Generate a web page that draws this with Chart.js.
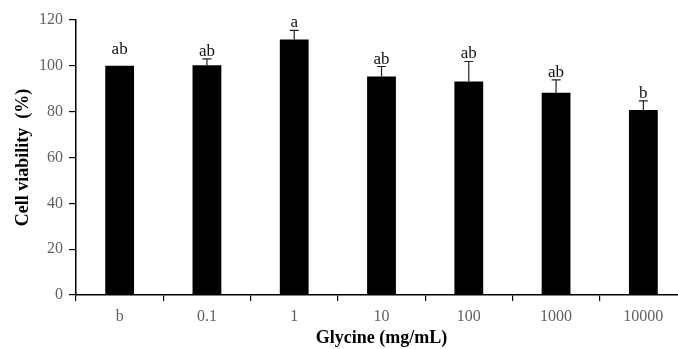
<!DOCTYPE html>
<html>
<head>
<meta charset="utf-8">
<script src="https://cdn.jsdelivr.net/npm/chart.js@4"></script>
<style>
  html, body { margin: 0; padding: 0; background: #fff; overflow: hidden; width: 678px; height: 349px; }
  #chart { display: block; }
</style>
</head>
<body>
<canvas id="chart" width="690" height="349"></canvas>
<script>
// Data
const categories = ['b', '0.1', '1', '10', '100', '1000', '10000'];
const viability = [100, 100.3, 111.5, 95.3, 93.2, 88.3, 80.7];
const errors = [0, 2.7, 4, 4.4, 8.7, 5.6, 4];
const letters = ['ab', 'ab', 'a', 'ab', 'ab', 'ab', 'b'];
const yTicks = [0, 20, 40, 60, 80, 100, 120];

const serif = "'Liberation Serif', 'Times New Roman', serif";

// error bars + significance letters
const errorBarPlugin = {
    id: 'errorBars',
    afterDatasetsDraw(chart) {
        const ctx = chart.ctx;
        const meta = chart.getDatasetMeta(0);
        const y = chart.scales.y;
        ctx.save();
        meta.data.forEach((bar, i) => {
            const top = y.getPixelForValue(viability[i] + errors[i]);
            if (errors[i] > 0) {
                ctx.strokeStyle = '#222';
                ctx.lineWidth = 1.2;
                ctx.beginPath();
                ctx.moveTo(bar.x, bar.y);
                ctx.lineTo(bar.x, top);
                ctx.moveTo(bar.x - 4.5, top);
                ctx.lineTo(bar.x + 4.5, top);
                ctx.stroke();
            }
            ctx.fillStyle = '#111';
            ctx.font = '17px ' + serif;
            ctx.textAlign = 'center';
            ctx.textBaseline = 'alphabetic';
            ctx.fillText(letters[i], bar.x, top - (errors[i] > 0 ? 3 : 12));
        });
        ctx.restore();
    }
};

new Chart(document.getElementById('chart'), {
    type: 'bar',
    data: {
        labels: categories,
        datasets: [{
            data: viability,
            backgroundColor: '#000',
            borderWidth: 0,
            barPercentage: 0.33,
            categoryPercentage: 1
        }]
    },
    options: {
        responsive: false,
        animation: false,
        layout: { padding: { top: 20, right: 3, left: 0, bottom: 0 } },
        plugins: { legend: { display: false }, tooltip: { enabled: false } },
        scales: {
            x: {
                afterFit: s => { s.height = 54; },
                border: { display: true, color: '#000', width: 1.5 },
                grid: { display: true, drawOnChartArea: false, drawTicks: true, tickLength: 6, color: '#000', lineWidth: 1.2, offset: true },
                ticks: { color: '#5f5f5f', font: { family: serif, size: 16 }, padding: 6 },
                title: {
                    display: true,
                    text: 'Glycine (mg/mL)',
                    color: '#000',
                    font: { family: serif, size: 18, weight: 'bold' },
                    padding: { top: 0, bottom: 0 }
                }
            },
            y: {
                min: 0,
                max: 120,
                afterFit: s => { s.width = 76; },
                afterBuildTicks: s => { s.ticks = yTicks.map(v => ({ value: v })); },
                border: { display: true, color: '#000', width: 1.5 },
                grid: { display: true, drawOnChartArea: false, drawTicks: true, tickLength: 7, color: '#000', lineWidth: 1.2 },
                ticks: { color: '#5f5f5f', font: { family: serif, size: 16 }, padding: 6 },
                title: {
                    display: true,
                    text: 'Cell viability  (%)',
                    color: '#000',
                    font: { family: serif, size: 18, weight: 'bold' },
                    padding: { top: 13, bottom: 0 }
                }
            }
        }
    },
    plugins: [errorBarPlugin]
});
</script>
</body>
</html>
